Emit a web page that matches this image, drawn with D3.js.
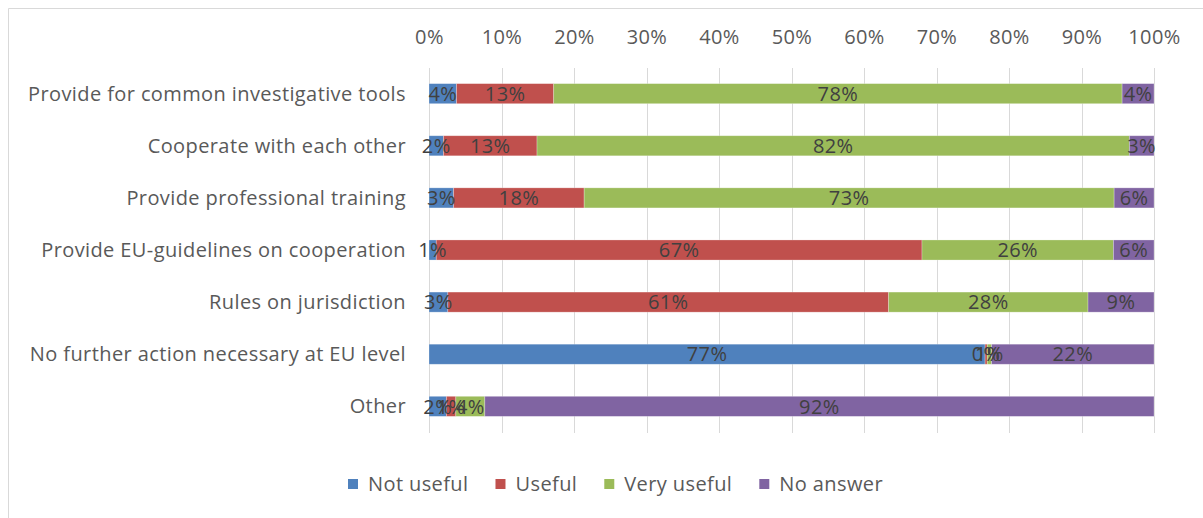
<!DOCTYPE html>
<html>
<head>
<meta charset="utf-8">
<script src="https://cdn.jsdelivr.net/npm/d3@7"></script>
<style>
  html, body { margin: 0; padding: 0; background: #fff; }
  svg { display: block; font-family: "Open Sans", "Noto Sans", sans-serif; letter-spacing: 0.4px; }
</style>
</head>
<body>
<script>
// categories, top to bottom
const categories = [
  "Provide for common investigative tools",
  "Cooperate with each other",
  "Provide professional training",
  "Provide EU-guidelines on cooperation",
  "Rules on jurisdiction",
  "No further action necessary at EU level",
  "Other"
];

// series values (percent)
const seriesNames = ["Not useful", "Useful", "Very useful", "No answer"];
const notUseful  = [3.8, 2.0, 3.4, 1.0, 2.6, 76.7, 2.4];
const useful     = [13.4, 12.9, 18.0, 67.0, 60.8, 0.3, 1.3];
const veryUseful = [78.4, 81.7, 73.1, 26.4, 27.5, 0.6, 4.0];
const noAnswer   = [4.4, 3.4, 5.5, 5.6, 9.1, 22.4, 92.3];
const seriesColors = ["#4F81BD", "#C0504D", "#9BBB59", "#8064A2"];

const xTicks = [0, 10, 20, 30, 40, 50, 60, 70, 80, 90, 100];

const width = 1203, height = 518;
const fontSize = "20px";

const rows = categories.map((c, i) => ({
  category: c,
  "Not useful": notUseful[i],
  "Useful": useful[i],
  "Very useful": veryUseful[i],
  "No answer": noAnswer[i]
}));

const stack = d3.stack().keys(seriesNames)(rows);

const x = d3.scaleLinear().domain([0, 100]).range([429, 1154]);
const y = d3.scaleBand().domain(categories).range([68, 432]).paddingInner(0.615).paddingOuter(0.3);
const color = d3.scaleOrdinal(seriesNames, seriesColors);

const svg = d3.select("body").append("svg")
  .attr("width", width)
  .attr("height", height);

// outer frame (top and left visible)
svg.append("line").attr("x1", 8.5).attr("x2", width).attr("y1", 8.5).attr("y2", 8.5)
  .attr("stroke", "#d9d9d9");
svg.append("line").attr("x1", 8.5).attr("x2", 8.5).attr("y1", 8.5).attr("y2", height)
  .attr("stroke", "#d9d9d9");

// gridlines
svg.append("g")
  .selectAll("line")
  .data(xTicks)
  .join("line")
  .attr("x1", d => Math.round(x(d)) + 0.5)
  .attr("x2", d => Math.round(x(d)) + 0.5)
  .attr("y1", 68)
  .attr("y2", 433)
  .attr("stroke", "#d9d9d9");

// top axis labels
const xAxis = svg.append("g")
  .attr("transform", "translate(0,47)")
  .call(d3.axisTop(x).tickValues(xTicks).tickFormat(d => d + "%").tickSize(0));
xAxis.select(".domain").remove();
xAxis.selectAll("text")
  .attr("fill", "#595959")
  .style("font-size", fontSize)
  .style("font-family", "'Open Sans', sans-serif");

// category labels
svg.append("g")
  .selectAll("text")
  .data(categories)
  .join("text")
  .attr("x", 406)
  .attr("y", d => y(d) + y.bandwidth() / 2)
  .attr("dy", "0.35em")
  .attr("text-anchor", "end")
  .attr("fill", "#595959")
  .style("font-size", fontSize)
  .text(d => d);

// bars
const layer = svg.append("g")
  .selectAll("g")
  .data(stack)
  .join("g")
  .attr("fill", d => color(d.key));

layer.selectAll("rect")
  .data(d => d)
  .join("rect")
  .attr("x", d => x(d[0]))
  .attr("width", d => x(d[1]) - x(d[0]))
  .attr("y", d => y(d.data.category))
  .attr("height", y.bandwidth())
  .attr("stroke", "#fff")
  .attr("stroke-opacity", 0.35)
  .attr("stroke-width", 0.75);

// data labels, drawn above every bar
svg.append("g")
  .selectAll("g")
  .data(stack)
  .join("g")
  .selectAll("text")
  .data(d => d)
  .join("text")
  .attr("x", d => (x(d[0]) + x(d[1])) / 2)
  .attr("y", d => y(d.data.category) + y.bandwidth() / 2)
  .attr("dy", "0.36em")
  .attr("text-anchor", "middle")
  .attr("fill", "#404040")
  .style("font-size", fontSize)
  .text(d => Math.round(d[1] - d[0]) + "%");

// legend
const legend = svg.append("g")
  .attr("transform", "translate(348,484)");
let lx = 0;
const legendItems = legend.selectAll("g")
  .data(seriesNames)
  .join("g");
legendItems.append("rect")
  .attr("y", -5)
  .attr("width", 10)
  .attr("height", 10)
  .attr("fill", d => color(d));
legendItems.append("text")
  .attr("x", 20)
  .attr("dy", "0.35em")
  .attr("fill", "#595959")
  .style("font-size", fontSize)
  .text(d => d);
legendItems.each(function () {
  const w = this.getBBox().width;
  d3.select(this).attr("transform", `translate(${lx},0)`);
  lx += w + 27;
});
</script>
</body>
</html>
